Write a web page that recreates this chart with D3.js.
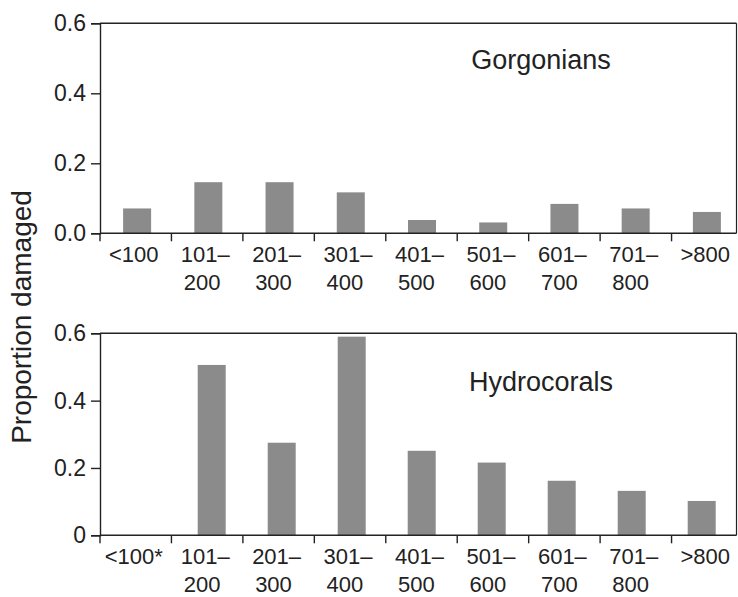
<!DOCTYPE html>
<html>
<head>
<meta charset="utf-8">
<script src="https://cdn.jsdelivr.net/npm/d3@7"></script>
<style>
  html, body { margin: 0; padding: 0; background: #fff; }
  svg { display: block; font-family: "Liberation Sans", Arial, Helvetica, sans-serif; }
</style>
</head>
<body>
<svg id="chart" width="738" height="597"></svg>
<script>
// ---- data ----
const categories = ["<100", "101-200", "201-300", "301-400", "401-500", "501-600", "601-700", "701-800", ">800"];
const labelLine1Top = ["<100", "101–", "201–", "301–", "401–", "501–", "601–", "701–", ">800"];
const labelLine1Bottom = ["<100*", "101–", "201–", "301–", "401–", "501–", "601–", "701–", ">800"];
const labelLine2 = ["", "200", "300", "400", "500", "600", "700", "800", ""];
const gorgonians = [0.071, 0.146, 0.146, 0.117, 0.038, 0.031, 0.084, 0.071, 0.061];
const hydrocorals = [null, 0.506, 0.275, 0.590, 0.251, 0.216, 0.162, 0.132, 0.102];
const yTicks = [0, 0.2, 0.4, 0.6];
const yTickLabelsTop = ["0.0", "0.2", "0.4", "0.6"];
const yTickLabelsBottom = ["0", "0.2", "0.4", "0.6"];

// ---- layout ----
const svg = d3.select("#chart");
const ink = "#222";
const barColor = "#8b8b8b";
const left = 100, frameRight = 736.5, catRight = 743;
const barW = 28;

const xCat = d3.scaleBand().domain(categories).range([left, catRight]).padding(0);

function panel(cfg) {
  const g = svg.append("g");
  const y = d3.scaleLinear().domain([0, 0.6]).range([cfg.y0, cfg.y1]);
  const xBar = d3.scaleBand().domain(categories).range(cfg.barRange).padding(0);

  // bars
  g.selectAll("rect.bar")
    .data(categories.map((c, i) => ({ c, v: cfg.values[i] })).filter(d => d.v != null))
    .join("rect")
    .attr("class", "bar")
    .attr("x", d => xBar(d.c) + xBar.bandwidth() / 2 - barW / 2)
    .attr("width", barW)
    .attr("y", d => y(d.v))
    .attr("height", d => y(0) - y(d.v))
    .attr("fill", barColor);

  // frame top & right
  g.append("line").attr("x1", left).attr("x2", frameRight)
    .attr("y1", y(0.6)).attr("y2", y(0.6)).attr("stroke", ink).attr("stroke-width", 1.4);
  g.append("line").attr("x1", frameRight).attr("x2", frameRight)
    .attr("y1", y(0.6)).attr("y2", y(0)).attr("stroke", ink).attr("stroke-width", 1.2);

  // y axis
  const yAxis = d3.axisLeft(y).tickValues(yTicks).tickSize(9).tickPadding(5)
    .tickFormat((d, i) => cfg.yLabels[i]);
  const ya = g.append("g").attr("transform", `translate(${left},0)`).call(yAxis);
  ya.select(".domain").attr("stroke", ink).attr("stroke-width", 1.4);
  ya.selectAll(".tick line").attr("stroke", ink).attr("stroke-width", 1.4);
  ya.selectAll(".tick text").attr("fill", ink).style("font-size", "23px")
    .style("font-family", "'Liberation Sans', Arial, sans-serif");

  // x axis line
  g.append("line").attr("x1", left).attr("x2", frameRight)
    .attr("y1", y(0)).attr("y2", y(0)).attr("stroke", ink).attr("stroke-width", 1.4);
  // x ticks at category boundaries
  g.selectAll("line.xt").data(categories).join("line").attr("class", "xt")
    .attr("x1", d => xCat(d)).attr("x2", d => xCat(d))
    .attr("y1", y(0)).attr("y2", y(0) + 8)
    .attr("stroke", ink).attr("stroke-width", 1.4);

  // x labels (two lines; second line left-aligned with first)
  const lab = g.selectAll("g.xl").data(categories).join("g").attr("class", "xl");
  lab.each(function (d, i) {
    const cx = xCat(d) + xCat.bandwidth() / 2 - 2;
    const t1 = d3.select(this).append("text")
      .attr("x", cx).attr("y", y(0) + 28.5)
      .attr("text-anchor", "middle").attr("fill", ink)
      .style("font-size", "22px").text(cfg.line1[i]);
    const w = t1.node().getComputedTextLength();
    if (labelLine2[i]) {
      d3.select(this).append("text")
        .attr("x", cx - w / 2 + 3).attr("y", y(0) + 57)
        .attr("fill", ink).style("font-size", "22px").text(labelLine2[i]);
    }
  });

  // panel title
  g.append("text").attr("x", 541).attr("y", cfg.titleY)
    .attr("text-anchor", "middle").attr("fill", ink)
    .style("font-size", "27px").text(cfg.title);
}

panel({ y0: 233.3, y1: 23.3, values: gorgonians, yLabels: yTickLabelsTop,
        line1: labelLine1Top, title: "Gorgonians", titleY: 69, barRange: [101.5, 742.5] });
panel({ y0: 535.3, y1: 333.3, values: hydrocorals, yLabels: yTickLabelsBottom,
        line1: labelLine1Bottom, title: "Hydrocorals", titleY: 391, barRange: [106.7, 736.7] });

// shared y label
svg.append("text")
  .attr("transform", "translate(31,317) rotate(-90)")
  .attr("text-anchor", "middle").attr("fill", ink)
  .style("font-size", "28px").text("Proportion damaged");
</script>
</body>
</html>
